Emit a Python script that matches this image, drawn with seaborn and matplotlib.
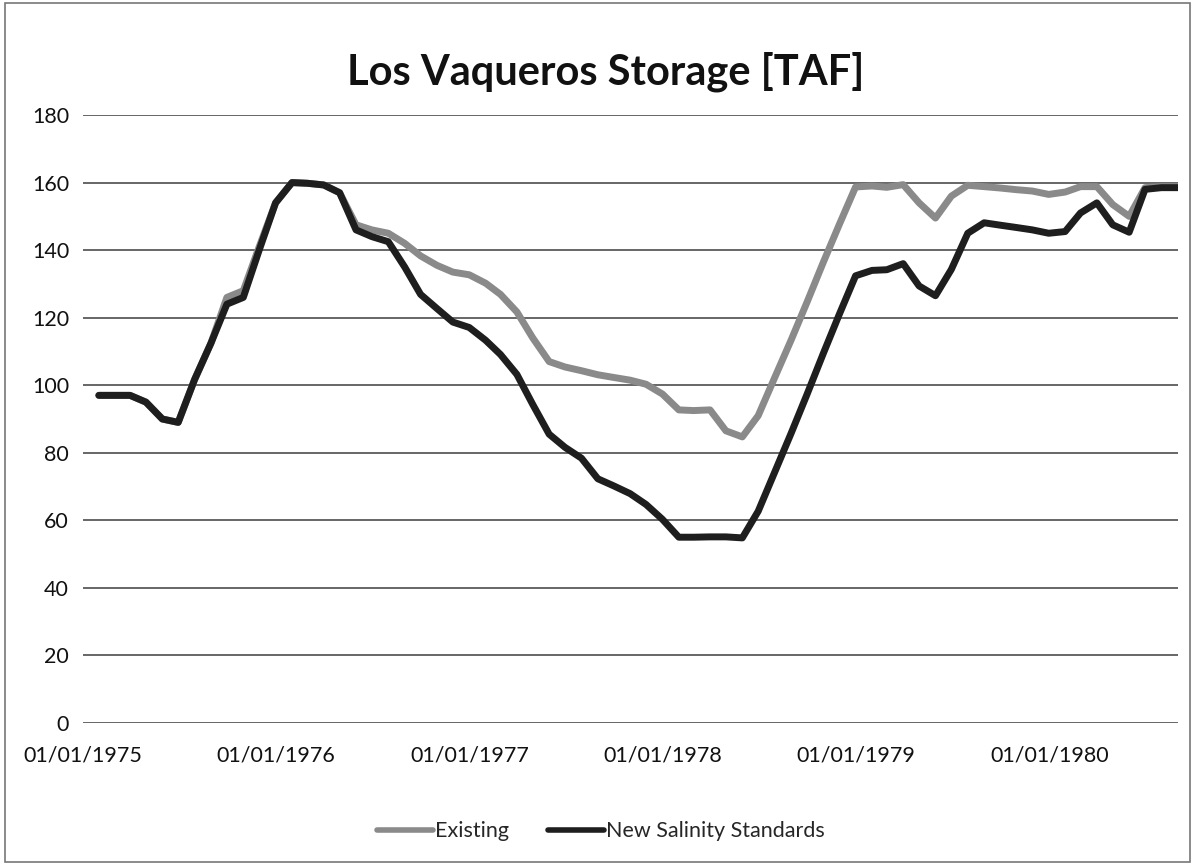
import numpy as np
import pandas as pd
import matplotlib
matplotlib.use("Agg")
import matplotlib.pyplot as plt
import seaborn as sns

# month-end storage values, Jan 1975 - Aug 1980 [TAF]
existing = [97, 97, 97, 95, 90, 89, 101.7, 112.5, 126, 128,
            141, 154, 160, 159.8, 159.3, 157, 147.5, 146, 145, 142,
            138.3, 135.5, 133.5, 132.7, 130.2, 126.9, 121.7, 114, 107, 105.4,
            104.3, 103.1, 102.3, 101.5, 100.3, 97.4, 92.7, 92.5, 92.7, 86.5,
            84.7, 91, 102.2, 113.3, 124.5, 136.4, 147.5, 158.7, 159, 158.6,
            159.4, 154, 149.5, 156, 159.2, 158.8, 158.4, 157.9, 157.5, 156.5,
            157.2, 158.8, 158.8, 153.5, 150, 158.5, 158.8, 158.8]
new_salinity = [97, 97, 97, 95, 90, 89, 101.7, 112.5, 124, 126,
                140, 154, 160, 159.8, 159.3, 157, 146, 144, 142.5, 135,
                126.9, 122.7, 118.7, 117.1, 113.3, 109.1, 103.2, 94.3, 85.5, 81.6,
                78.4, 72.3, 70.2, 67.9, 64.7, 60.3, 55, 55, 55.1, 55.1,
                54.8, 62.7, 74.2, 85.7, 97.2, 109.4, 120.9, 132.4, 134, 134.2,
                136, 129.4, 126.5, 134.3, 145, 148.1, 147.4, 146.7, 146, 145,
                145.5, 151, 154, 147.5, 145.3, 158, 158.5, 158.5]
dates = pd.date_range("1975-01-31", periods=len(existing), freq="ME")
tick_dates = pd.to_datetime(["1975-01-01", "1976-01-01", "1977-01-01",
                             "1978-01-01", "1979-01-01", "1980-01-01"])
tick_labels = [d.strftime("%m/%d/%Y") for d in tick_dates]

df = pd.DataFrame({
    "date": np.concatenate([dates, dates]),
    "storage": existing + new_salinity,
    "series": ["Existing"] * len(existing) + ["New Salinity Standards"] * len(new_salinity),
})

sns.set_theme(style="white")
plt.rcParams["font.family"] = ["Lato", "DejaVu Sans"]

fig = plt.figure(figsize=(11.97, 8.65), dpi=100)
ax = fig.add_axes([0.0693, 0.1642, 0.9147, 0.7028])

sns.lineplot(data=df, x="date", y="storage", hue="series", ax=ax,
             palette={"Existing": "#8a8a8a", "New Salinity Standards": "#1e1e1e"},
             linewidth=5, legend=True, solid_joinstyle="round", solid_capstyle="round")

ax.set_ylim(0, 180)
ax.set_yticks(range(0, 181, 20))
ax.set_xlim(pd.Timestamp("1975-01-01"), dates[-1])
ax.set_xticks(tick_dates)
ax.set_xticklabels(tick_labels)
ax.grid(axis="y", color="#5a5a5a", linewidth=1.3)
ax.grid(axis="x", visible=False)
for s in ax.spines.values():
    s.set_visible(False)
ax.tick_params(axis="y", length=0, pad=10, labelsize=15.5, colors="#111111")
ax.tick_params(axis="x", length=0, pad=16, labelsize=15.5, colors="#111111")
ax.set_xlabel("")
ax.set_ylabel("")

leg = ax.legend(loc="upper center", bbox_to_anchor=(0.473, -0.13), ncol=2,
                frameon=False, fontsize=15.5, handlelength=2.6, handletextpad=0.1,
                columnspacing=1.8)
for line in leg.get_lines():
    line.set_linewidth(4)

fig.suptitle("Los Vaqueros Storage [TAF]", x=0.506, y=0.94,
             fontsize=30, fontweight="bold", color="#111111")

fig.patches.append(plt.Rectangle((0.004, 0.004), 0.99, 0.992, transform=fig.transFigure,
                                 fill=False, edgecolor="#777777", linewidth=1.2))

fig.savefig("out.png", dpi=100)
